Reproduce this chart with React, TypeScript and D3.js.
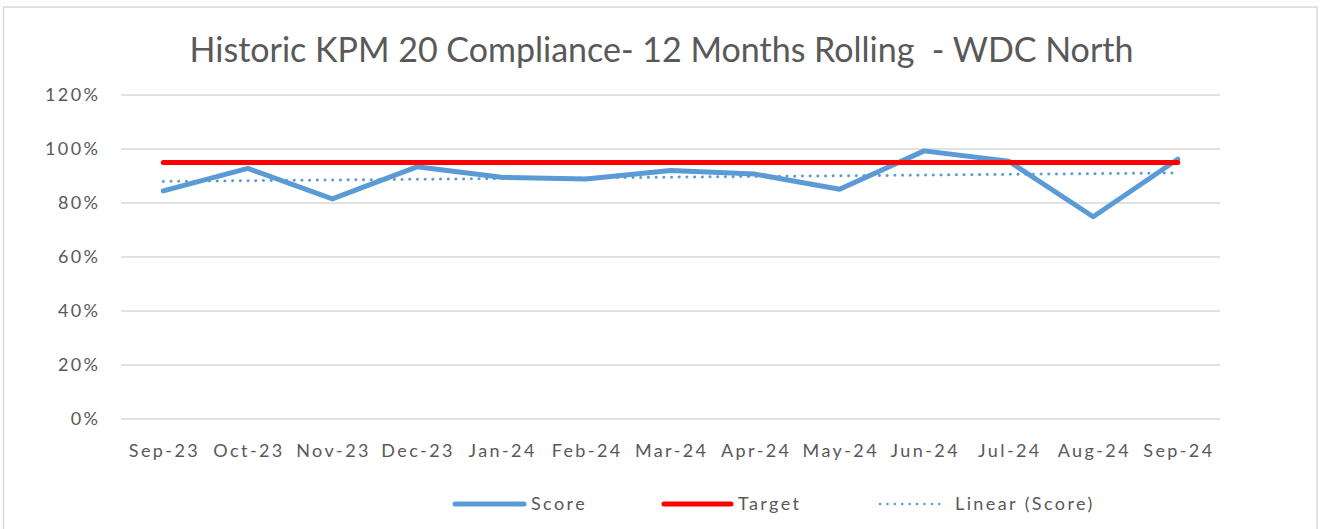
import React from "react";
import * as d3 from "d3";

const months = ["Sep-23","Oct-23","Nov-23","Dec-23","Jan-24","Feb-24","Mar-24","Apr-24","May-24","Jun-24","Jul-24","Aug-24","Sep-24"];
const score = [0.845,0.928,0.815,0.934,0.895,0.889,0.92,0.907,0.851,0.993,0.955,0.749,0.962];
const target = [0.95,0.95,0.95,0.95,0.95,0.95,0.95,0.95,0.95,0.95,0.95,0.95,0.95];
const yTicks = [0,0.2,0.4,0.6,0.8,1.0,1.2];
const title = "Historic KPM 20 Compliance- 12 Months Rolling  - WDC North";
const legendItems = ["Score","Target","Linear (Score)"];

const W = 1326, H = 529;
const FONT = "Lato, 'Open Sans', sans-serif";
const GREY = "#595959";
const BLUE = "#5b9bd5";
const RED = "#ff0000";
const LS = 2.4;

export default function App() {
  const x = d3.scaleBand<string>().domain(months).range([121, 1220]);
  const y = d3.scaleLinear().domain([0, 1.2]).range([419, 95]);
  const cx = (m: string) => (x(m) as number) + x.bandwidth() / 2;

  // linear trend (least squares)
  const n = score.length;
  const idx = d3.range(n);
  const mx = d3.mean(idx) as number;
  const my = d3.mean(score) as number;
  const slope = d3.sum(idx, (i) => (i - mx) * (score[i] - my)) / d3.sum(idx, (i) => (i - mx) ** 2);
  const trend = idx.map((i) => my + slope * (i - mx));

  const line = d3.line<number>().x((_, i) => cx(months[i])).y((v) => y(v));

  const pct = d3.format(".0%");
  const ly = 504;

  return (
    <svg width={W} height={H} style={{ position: "absolute", left: 0, top: 0 }} fontFamily={FONT}>
      <rect x={0} y={0} width={W} height={H} fill="#fff" />
      <rect x={3.5} y={7} width={1313.5} height={540} fill="#fff" stroke="#d9d9d9" strokeWidth={1.5} />
      <text x={661.5} y={62} textAnchor="middle" fontSize={34} fill={GREY} style={{ whiteSpace: "pre" }}>{title}</text>
      {yTicks.map((t) => (
        <g key={t}>
          <line x1={121} x2={1220} y1={y(t)} y2={y(t)} stroke="#d9d9d9" strokeWidth={1.5} />
          <text x={98 + LS} y={y(t)} dy="0.35em" textAnchor="end" fontSize={18} letterSpacing={LS} fill={GREY}>{pct(t)}</text>
        </g>
      ))}
      {months.map((m) => (
        <text key={m} x={cx(m) + LS / 2} y={451} dy="0.35em" textAnchor="middle" fontSize={18} letterSpacing={LS} fill={GREY}>{m}</text>
      ))}
      <path d={line(trend) as string} fill="none" stroke={BLUE} strokeWidth={3} strokeDasharray="0.1 7.6" strokeLinecap="round" />
      <path d={line(score) as string} fill="none" stroke={BLUE} strokeWidth={5} strokeLinejoin="round" strokeLinecap="round" />
      <path d={line(target) as string} fill="none" stroke={RED} strokeWidth={5} strokeLinecap="round" />
      <g fontSize={18} fill={GREY} letterSpacing={LS}>
        <line x1={455} x2={524} y1={ly} y2={ly} stroke={BLUE} strokeWidth={5} strokeLinecap="round" />
        <text x={531} y={ly} dy="0.35em">{legendItems[0]}</text>
        <line x1={664} x2={731} y1={ly} y2={ly} stroke={RED} strokeWidth={5} strokeLinecap="round" />
        <text x={738} y={ly} dy="0.35em">{legendItems[1]}</text>
        <line x1={880} x2={946} y1={ly} y2={ly} stroke={BLUE} strokeWidth={2.5} strokeDasharray="0.1 7.3" strokeLinecap="round" />
        <text x={955} y={ly} dy="0.35em">{legendItems[2]}</text>
      </g>
    </svg>
  );
}
